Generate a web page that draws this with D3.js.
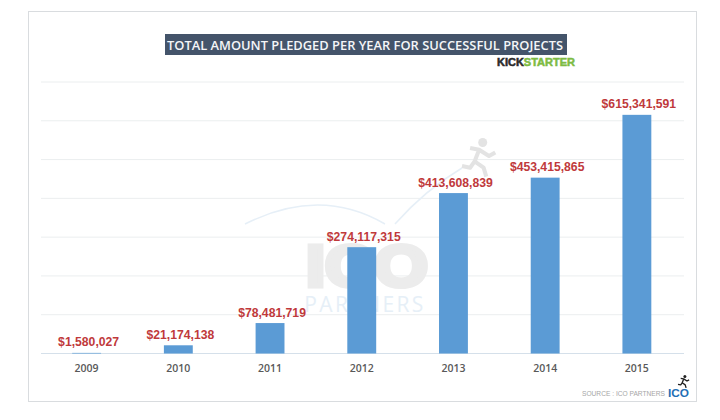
<!DOCTYPE html>
<html>
<head>
<meta charset="utf-8">
<script src="https://cdn.jsdelivr.net/npm/d3@7"></script>
<style>
html,body{margin:0;padding:0;background:#fff;}
svg{display:block;}
</style>
</head>
<body>
<svg id="chart" width="720" height="420"></svg>
<script>
const years = ["2009","2010","2011","2012","2013","2014","2015"];
const pledged = [1580027,21174138,78481719,274117315,413608839,453415865,615341591];
const yTicks = [0,100000000,200000000,300000000,400000000,500000000,600000000,700000000];
const titleText = "TOTAL AMOUNT PLEDGED PER YEAR FOR SUCCESSFUL PROJECTS";
const sourceText = "SOURCE : ICO PARTNERS";

const svg = d3.select("#chart");
const x = d3.scaleBand().domain(years).range([41,682.5]).padding(0.685).paddingOuter(0.34);
const y = d3.scaleLinear().domain([0,700000000]).range([353.5,82]);
const money = d3.format("$,");

svg.append("rect").attr("x",28.5).attr("y",11.5).attr("width",668).attr("height",390)
  .attr("fill","#fff").attr("stroke","#d9dcdf").attr("stroke-width",1);

// gridlines
svg.append("g").selectAll("line").data(yTicks).join("line")
  .attr("x1",41).attr("x2",684)
  .attr("y1",d=>y(d)).attr("y2",d=>y(d))
  .attr("stroke",d=>d===0?"#d5e0ea":"#ebeeef").attr("stroke-width",1);

// watermark
const wm = svg.append("g");
wm.append("path").attr("d","M245 224 Q320 186 385 224").attr("fill","none").attr("stroke","#e6eff7").attr("stroke-width",1.5);
wm.append("path").attr("d","M395 224 Q425 190 462 168").attr("fill","none").attr("stroke","#e6eff7").attr("stroke-width",1.5);
wm.append("text").attr("x",367).attr("y",286).attr("text-anchor","middle")
  .attr("font-family","Liberation Sans").attr("font-weight",700).attr("font-size",58)
  .attr("textLength",122).attr("lengthAdjust","spacingAndGlyphs")
  .attr("fill","#ececec").attr("stroke","#ececec").attr("stroke-width",5).text("ICO");
wm.append("text").attr("x",365).attr("y",312).attr("text-anchor","middle")
  .attr("font-family","Open Sans").attr("font-size",21).attr("letter-spacing",2.4)
  .attr("fill","#e6eff7").text("PARTNERS");
// runner watermark
const runner = (g,tx,ty,s,col)=>{
  const r = g.append("g").attr("transform",`translate(${tx},${ty}) scale(${s})`);
  r.append("circle").attr("cx",23).attr("cy",5).attr("r",5).attr("fill",col);
  r.append("path").attr("d","M9 11 L19 13 L30 20 L37 16 M19 13 L14 26 L24 33 L27 43 M14 26 L9 33 L0 31")
    .attr("fill","none").attr("stroke",col).attr("stroke-width",4.5).attr("stroke-linejoin","round");
};
runner(wm,462,138,0.9,"#e3e3e3");

// bars
svg.append("g").selectAll("rect").data(pledged).join("rect")
  .attr("x",(d,i)=>x(years[i])).attr("width",x.bandwidth())
  .attr("y",d=>y(d)).attr("height",d=>y(0)-y(d))
  .attr("fill","#5b9bd5");

// value labels
svg.append("g").selectAll("text").data(pledged).join("text")
  .attr("x",(d,i)=>x(years[i])+x.bandwidth()/2+2)
  .attr("y",d=>y(d)-6.5)
  .attr("text-anchor","middle")
  .attr("font-family","Liberation Sans").attr("font-weight",700).attr("font-size",12.2)
  .attr("fill","#c0393b").text(d=>money(d));

// x axis labels
svg.append("g").selectAll("text").data(years).join("text")
  .attr("x",d=>x(d)+x.bandwidth()/2).attr("y",372)
  .attr("text-anchor","middle")
  .attr("font-family","Open Sans").attr("font-weight",600).attr("font-size",10.5)
  .attr("fill","#595959").text(d=>d);

// title
svg.append("rect").attr("x",165).attr("y",34).attr("width",402).attr("height",21).attr("fill","#44546a");
svg.append("text").attr("x",167).attr("y",50)
  .attr("font-family","Open Sans").attr("font-weight",600).attr("font-size",13)
  .attr("textLength",396).attr("lengthAdjust","spacingAndGlyphs")
  .attr("fill","#f4f6f8").text(titleText);

// kickstarter logo
const ks = svg.append("text").attr("x",497).attr("y",66)
  .attr("font-family","Liberation Sans").attr("font-weight",700).attr("font-size",10)
  .attr("stroke-width",0.5)
  .attr("textLength",78).attr("lengthAdjust","spacingAndGlyphs");
ks.append("tspan").attr("fill","#2b2b2b").attr("stroke","#2b2b2b").text("KICK");
ks.append("tspan").attr("fill","#7dbb42").attr("stroke","#7dbb42").text("STARTER");

// source
svg.append("text").attr("x",582).attr("y",396)
  .attr("font-family","Liberation Sans").attr("font-size",6.5)
  .attr("textLength",83).attr("lengthAdjust","spacingAndGlyphs")
  .attr("fill","#a6a6a6").text(sourceText);
svg.append("text").attr("x",668).attr("y",396.5)
  .attr("font-family","Liberation Sans").attr("font-weight",700).attr("font-size",10)
  .attr("textLength",21).attr("lengthAdjust","spacingAndGlyphs")
  .attr("fill","#1f6fb5").text("ICO");
runner(svg,678,375,0.3,"#222");
</script>
</body>
</html>
